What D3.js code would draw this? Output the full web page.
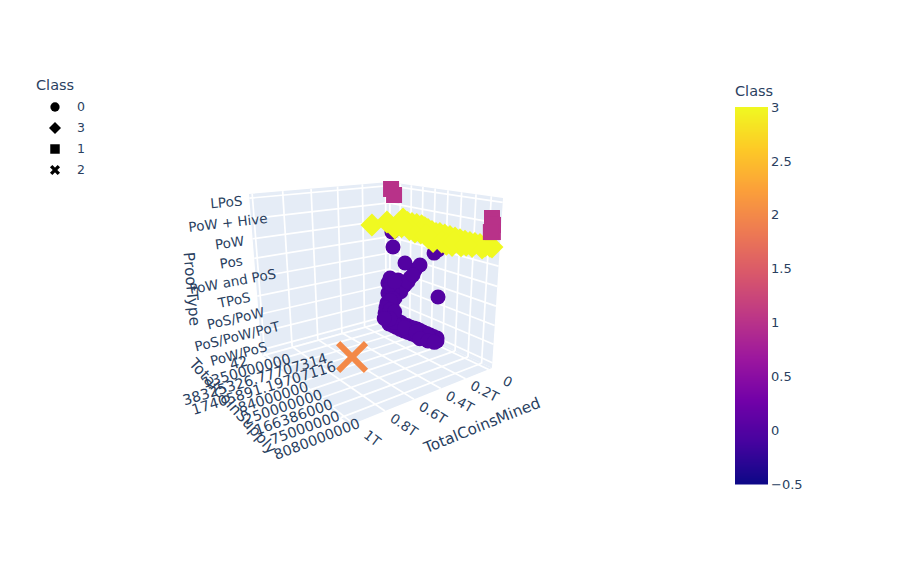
<!DOCTYPE html>
<html><head><meta charset="utf-8"><script src="https://cdn.jsdelivr.net/npm/d3@7"></script>
<style>body{margin:0;background:#fff}text{font-family:"DejaVu Sans",Verdana,sans-serif;fill:#2a3f5f}</style></head>
<body><svg id="chart" width="916" height="563"></svg>
<script>
const proofTypes = ["PoW/PoS","PoS/PoW/PoT","PoS/PoW","TPoS","PoW and PoS","Pos","PoW","PoW + Hive","LPoS"];
const supplyTicks = [0,55,110,165,220,275,330,385,440];
const supplyLabels = ["42","1350000000","38325326.77707314","17405891.19707116","84000000","250000000","166386000","75000000","8080000000"];
const minedTicks = [0,0.2e12,0.4e12,0.6e12,0.8e12,1e12];
const legendClasses = [0,3,1,2];
const colorTicks = [-0.5,0,0.5,1,1.5,2,2.5,3];
const plasma = ["#0d0887","#46039f","#7201a8","#9c179e","#bd3786","#d8576b","#ed7953","#fb9f3a","#fdca26","#f0f921"];

// [TotalCoinsMined, TotalCoinSupply index, ProofType index]
const class0 = [[0,-11,-0.15],[0,30,0.07],[0,64,0.05],[0,97,-0.02],[0,129,0.03],[0,165,0.10],[0,195,0.09],[0,229,0.10],[0,262,0.11],[0,262,-0.06],[0,220,-0.20],[0,180,-0.31],[0,139,-0.36],[0,97,-0.41],[0,53,-0.40],[0,13,-0.42],[0,-10,0.19],[0,1,0.90],[0,7,1.57],[0,7,2.21],[0,19,2.57],[0,63,2.63],[0,100,2.48],[0,125,3.01],[0,150,3.58],[0,58,1.99],[0,47,1.44],[0,30,0.91],[0,99,3.80],[0,174,3.96],[0,261,2.50],[0,35,4.53],[0,238,4.85],[0,29,5.41],[0,255,5.08],
  [0,14,0.08],[0,47,0.08],[0,80,0.05],[0,113,0.03],[0,147,0.07],[0,180,0.09],[0,212,0.10],[0,245,0.10],[0,35,-0.40],[0,75,-0.41],[0,118,-0.38],[0,160,-0.33],[0,200,-0.25],[0,240,-0.15],[0,40,-0.15],[0,100,-0.18],[0,160,-0.12],[0,220,-0.02],[0,78,1.98],[0,85,2.25],[0,115,2.75],[0,140,3.25],[0,30,1.80],[0,35,1.35],[0,20,1.15],[0,-5,0.55],[0,20,0.55],[0,45,0.55],[0,18,-0.05],[0,-15,-0.20],[0,25,2.20],[0,45,2.45],[0,180,-0.42],[0,220,-0.32],[0,250,-0.22]];
const class1 = [[0,24,7.87],[0,40,7.56],[0,459,7.26],[0,464,6.95],[0,465,6.62],[0,458,6.60]];
const class2 = [[990e9,474,2.63]];
const class3 = [[120e9,-7,5.84],[120e9,75,6.22],[0,87,6.31],[0,132,6.17],[0,178,6.16],[0,208,6.04],[0,244,5.92],[0,232,5.46],[0,314,5.51],[0,393,5.71],[0,458,5.92],[0,261,5.97],[0,304,5.94],[0,345,5.90],[0,384,5.87],[0,422,5.89],[0,147,5.73],[0,45,5.68],[0,465,5.91],
  [0,110,6.17],[0,155,6.17],[0,193,6.10],[0,226,5.98],[0,282,5.95],[0,325,5.92],[0,365,5.88],[0,403,5.88],[0,440,5.88],[0,175,5.75],[0,210,5.60],[0,270,5.55],[0,350,5.60],[0,430,5.75],[0,120,5.80],[0,80,5.85],[0,200,5.72],[0,290,5.50],[0,320,5.70],[0,370,5.70]];

const svg = d3.select("#chart");
const line = d3.line();

const xS = d3.scaleLinear().domain([-0.03e12,1.02e12]).range([0,1]);
const yS = d3.scaleLinear().domain([-5,480]).range([0,1]);
const zS = d3.scaleLinear().domain([-0.3,8.2]).range([0,1]);

// box corners on screen: unit cube position, then pixel
const corners = [[0,0,0,389,320],[0,0,1,389,182],[1,0,0,262,355],[1,0,1,249,194],[0,1,0,492,368],[0,1,1,503,198],[1,1,0,350,425]];

// least squares fit of the camera matrix
function fitCamera(c) {
  const A = [], b = [];
  c.forEach(([u,v,w,px,py]) => {
    A.push([u,v,w,1,0,0,0,0,-px*u,-px*v,-px*w]); b.push(px);
    A.push([0,0,0,0,u,v,w,1,-py*u,-py*v,-py*w]); b.push(py);
  });
  const n = 11;
  const M = d3.range(n).map(i => d3.range(n+1).map(j => d3.sum(A, (r,k) => r[i]*(j<n ? r[j] : b[k]))));
  for (let i = 0; i < n; i++) {
    let p = i;
    for (let r = i; r < n; r++) if (Math.abs(M[r][i]) > Math.abs(M[p][i])) p = r;
    [M[i],M[p]] = [M[p],M[i]];
    for (let r = 0; r < n; r++) if (r !== i) {
      const f = M[r][i]/M[i][i];
      for (let j = i; j <= n; j++) M[r][j] -= f*M[i][j];
    }
  }
  return M.map((r,i) => r[n]/r[i]);
}
const m = fitCamera(corners);
function project(u,v,w) {
  const d = m[8]*u + m[9]*v + m[10]*w + 1;
  return [(m[0]*u+m[1]*v+m[2]*w+m[3])/d, (m[4]*u+m[5]*v+m[6]*w+m[7])/d];
}
const angle = (a,b) => Math.atan2(b[1]-a[1], b[0]-a[0])*180/Math.PI;

// walls and floor
const faces = [
  [[0,0,0],[1,0,0],[1,0,1],[0,0,1]],
  [[0,0,0],[0,1,0],[0,1,1],[0,0,1]],
  [[0,0,0],[1,0,0],[1,1,0],[0,1,0]]
];
svg.append("g").selectAll("path").data(faces).join("path")
  .attr("d", f => line(f.map(p => project(...p))) + "Z")
  .attr("fill", "#e5ecf6");

// grid lines
const grid = [];
minedTicks.forEach(t => {
  const u = xS(t);
  grid.push([[u,0,0],[u,0,1]], [[u,0,0],[u,1,0]]);
});
supplyTicks.forEach(t => {
  const v = yS(t);
  grid.push([[0,v,0],[0,v,1]], [[0,v,0],[1,v,0]]);
});
proofTypes.forEach((d,i) => {
  const w = zS(i);
  grid.push([[0,0,w],[1,0,w]], [[0,0,w],[0,1,w]]);
});
svg.append("g").selectAll("path").data(grid).join("path")
  .attr("d", g => line(g.map(p => project(...p))))
  .attr("fill", "none").attr("stroke", "#fff").attr("stroke-width", 1.7);

// tick labels turn with the axis they lie along
function tickLabels(data, anchor, dir, text, dx, dy, size) {
  svg.append("g").selectAll("text").data(data).join("text")
    .attr("transform", (d,i) => {
      const p = anchor(d,i), a = angle(...dir(d,i));
      return `translate(${p[0]+dx},${p[1]+dy(i)}) rotate(${a})`;
    })
    .attr("text-anchor", "middle").attr("dy", "0.35em")
    .attr("font-size", size)
    .text(text);
}
tickLabels(minedTicks,
  t => project(xS(t),1,0),
  t => [project(xS(t),0,0), project(xS(t),1,0)],
  t => t === 0 ? "0" : (t/1e12) + "T", 19, i => 12 + 0.5*i, 13.5);
tickLabels(supplyTicks,
  t => project(1,yS(t),0),
  t => [project(1,yS(t),0), project(0,yS(t),0)],
  (t,i) => supplyLabels[i], -24, i => 7 + 1.8*i, 14.3);
tickLabels(proofTypes,
  (d,i) => project(1,0,zS(i)),
  (d,i) => [project(1,0,zS(i)), project(0,0,zS(i))],
  d => d, -23, () => 4, 13.5);

// axis titles
const titles = [["TotalCoinsMined",482,425,-22],["TotalCoinSupply",233,406,48],["ProofType",192,289,85]];
svg.append("g").selectAll("text").data(titles).join("text")
  .attr("transform", d => `translate(${d[1]},${d[2]}) rotate(${d[3]})`)
  .attr("text-anchor", "middle").attr("dy", "0.35em").attr("font-size", 15.3)
  .text(d => d[0]);

// colour scale and marks
const colorPos = d3.scaleLinear().domain([-0.5,3]).range([0,1]);
const plasmaScale = d3.scaleLinear().domain(plasma.map((c,i) => i/(plasma.length-1))).range(plasma).interpolate(d3.interpolateRgb);
const classColor = c => plasmaScale(colorPos(c));

const place = d => {
  const p = project(xS(d[0]), yS(d[1]), zS(d[2]));
  return `translate(${p[0]},${p[1]})`;
};
const symbols = {
  0: {type: d3.symbolCircle, size: 177},
  1: {type: d3.symbolSquare, size: 256},
  2: {type: d3.symbolTimes, size: 510},
  3: {type: d3.symbolDiamond2, size: 337}
};
function drawClass(points, c) {
  const g = svg.append("g").selectAll("path").data(points).join("path")
    .attr("d", d3.symbol(symbols[c].type, symbols[c].size))
    .attr("transform", place);
  if (c === 2) g.attr("fill", "none").attr("stroke", classColor(c)).attr("stroke-width", 6);
  else g.attr("fill", classColor(c));
}
drawClass(class0, 0);
drawClass(class2, 2);
drawClass(class3, 3);
drawClass(class1, 1);

// legend
const legendY = d3.scalePoint().domain(legendClasses).range([107,170]);
const legendSymbols = {
  0: {type: d3.symbolCircle, size: 68},
  1: {type: d3.symbolSquare, size: 90},
  2: {type: d3.symbolTimes, size: 40},
  3: {type: d3.symbolDiamond2, size: 92}
};
svg.append("text").attr("x", 36).attr("y", 90).attr("font-size", 14.5).text("Class");
const legend = svg.append("g").selectAll("g").data(legendClasses).join("g")
  .attr("transform", c => `translate(55,${legendY(c)})`);
legend.append("path")
  .attr("d", c => d3.symbol(legendSymbols[c].type, legendSymbols[c].size)())
  .attr("fill", c => c === 2 ? "none" : "#000")
  .attr("stroke", c => c === 2 ? "#000" : "none")
  .attr("stroke-width", 3.4);
legend.append("text").attr("x", 22).attr("dy", "0.35em").attr("font-size", 12.5).text(c => c);

// colorbar
const barY = d3.scaleLinear().domain([-0.5,3]).range([484,107]);
svg.append("g").selectAll("rect").data(d3.range(0,377)).join("rect")
  .attr("x", 735).attr("width", 33)
  .attr("y", d => 107 + d).attr("height", 1.5)
  .attr("fill", d => classColor(barY.invert(107 + d + 0.5)));
svg.append("text").attr("x", 735).attr("y", 96).attr("font-size", 14.5).text("Class");
const barAxis = svg.append("g").attr("transform", "translate(768,0)")
  .call(d3.axisRight(barY).tickValues(colorTicks).tickSize(0).tickPadding(3).tickFormat(d3.format("~g")));
barAxis.select(".domain").remove();
barAxis.selectAll("text").attr("font-size", 13).style("font-family", '"DejaVu Sans"');
</script></body></html>
